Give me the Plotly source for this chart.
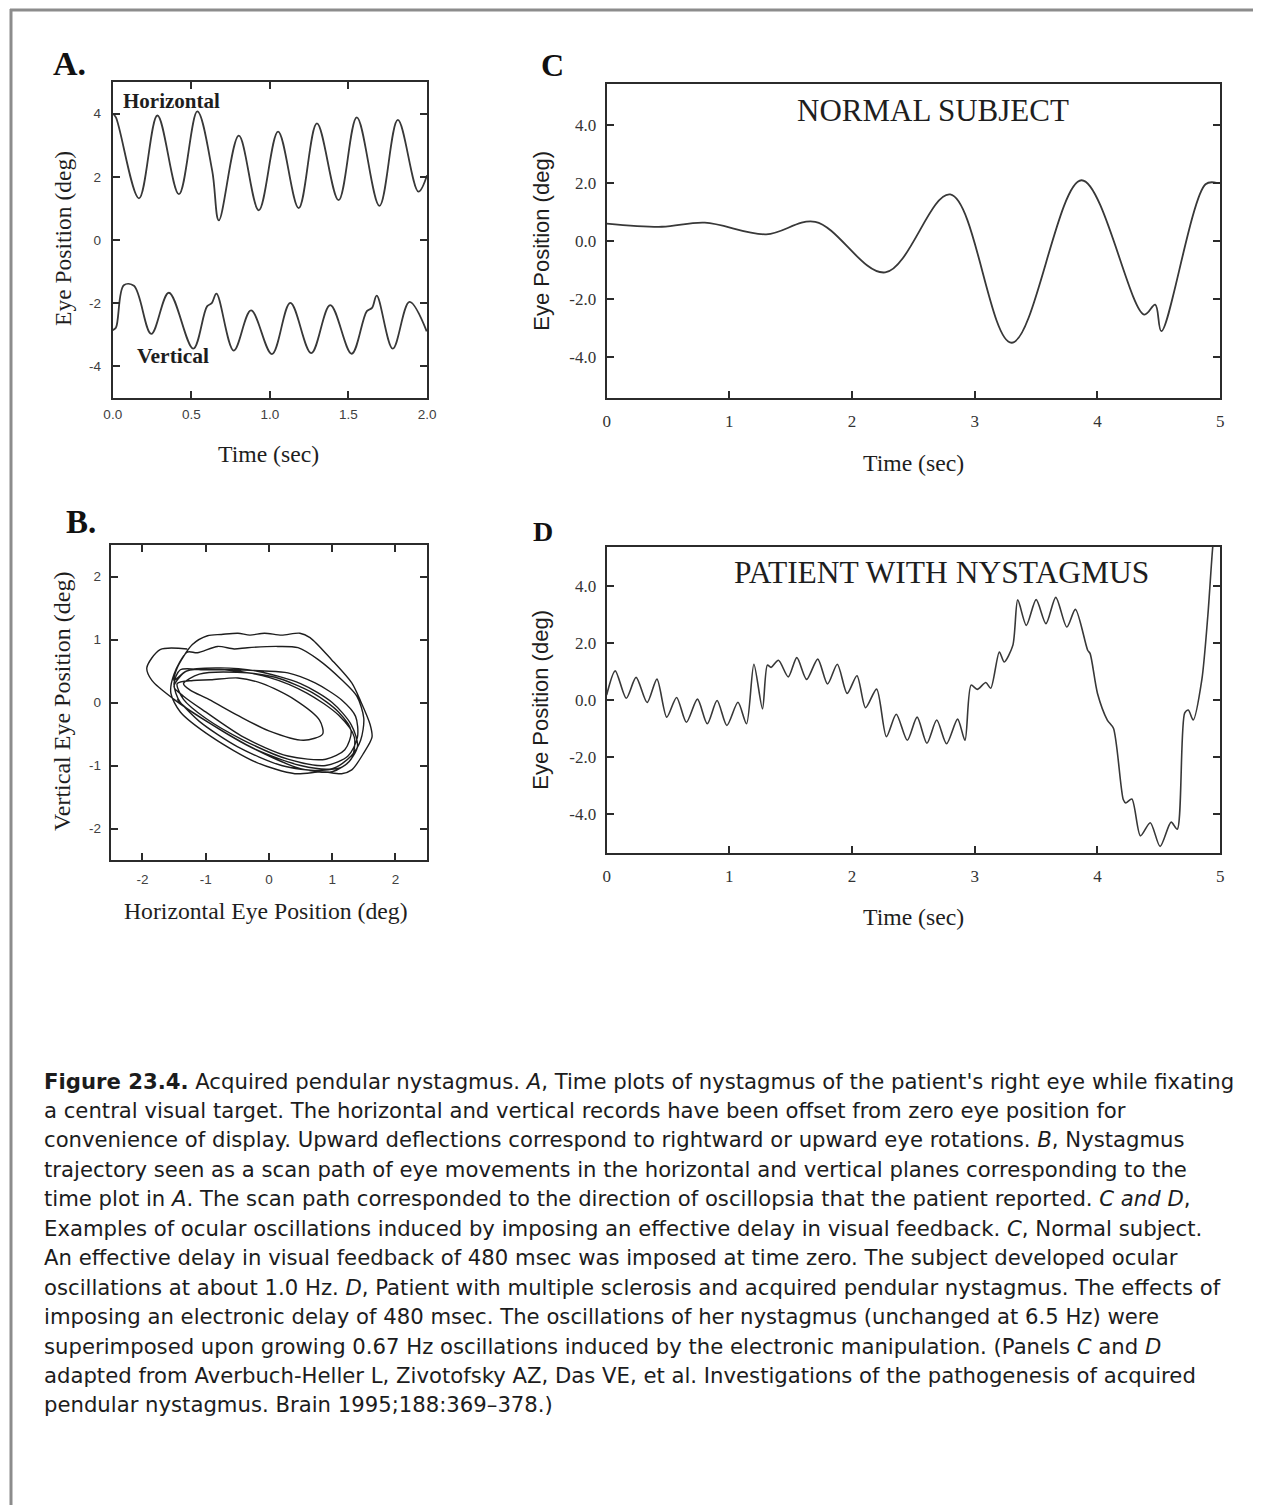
import plotly.graph_objects as go

W, H = 1262, 1505
# observed horizontal placement of the rendered page: x_screen = 8 + 0.988 * x_layout
SX0, SXK = 8.0, 0.988

# ---------------- Panel A: time plots (deg) ----------------
a_h_time = [0.0, 0.02, 0.167, 0.284, 0.421, 0.538, 0.633, 0.675, 0.802, 0.929, 1.052,
            1.183, 1.299, 1.437, 1.553, 1.697, 1.814, 1.945, 2.0]
a_h_pos = [4.0, 3.88, 1.32, 3.94, 1.45, 4.07, 2.19, 0.62, 3.30, 0.94, 3.43,
           1.01, 3.69, 1.26, 3.88, 1.08, 3.80, 1.53, 2.05]

a_v_time = [0.0, 0.02, 0.07, 0.135, 0.245, 0.357, 0.512, 0.60, 0.63, 0.66, 0.77,
            0.88, 1.013, 1.13, 1.263, 1.384, 1.52, 1.617, 1.65, 1.68, 1.782, 1.888, 1.998]
a_v_pos = [-2.85, -2.78, -1.43, -1.45, -2.97, -1.67, -3.44, -2.1, -2.0, -1.70, -3.50,
           -2.23, -3.61, -1.99, -3.58, -2.06, -3.60, -2.25, -2.15, -1.76, -3.44, -1.96, -2.89]

# ---------------- Panel B: scan path (deg) ----------------
b_horiz = [-1.29, -1.72, -1.93, -1.85, -1.50, -0.90, -0.20, 0.50, 1.00, 1.30, 1.35, 1.10, 0.60, 0.00, -0.70, -1.30, -1.50,
           -1.45, -1.21, -0.97, -0.75, -0.49, -0.30, -0.07, 0.20, 0.49, 0.65, 0.99, 1.31, 1.45, 1.60, 1.63, 1.50, 1.31, 1.15, 0.84, 0.41, -0.20, -0.90, -1.40, -1.55,
           -1.50, -1.29, -1.13, -0.81, -0.55, -0.34, 0.14, 0.46, 0.78, 1.15, 1.39, 1.50, 1.45, 1.30, 1.00, 0.50, -0.20, -0.90, -1.40, -1.50,
           -1.40, -1.03, -0.60, -0.07, 0.30, 0.73, 1.15, 1.37, 1.40, 1.25, 0.90, 0.30, -0.40, -1.00, -1.35, -1.45,
           -1.20, -0.92, -0.49, -0.10, 0.40, 0.80, 0.85, 0.55, 0.00, -0.50, -0.95, -1.25,
           -1.35, -1.10, -0.50, 0.10, 0.70, 1.10, 1.30, 1.20, 0.90, 0.30, -0.40, -1.00, -1.35,
           -1.50, -1.30, -0.80, -0.20, 0.50, 1.00, 1.30, 1.40, 1.20, 0.80, 0.20, -0.50, -1.10, -1.45]
b_vert = [0.85, 0.84, 0.55, 0.35, 0.05, -0.35, -0.75, -1.05, -1.10, -0.90, -0.55, -0.20, 0.15, 0.40, 0.52, 0.50, 0.35,
          0.55, 0.92, 1.06, 1.08, 1.10, 1.07, 1.10, 1.07, 1.10, 1.03, 0.68, 0.31, 0.02, -0.35, -0.55, -0.80, -1.07, -1.13, -1.10, -1.13, -0.95, -0.55, -0.15, 0.15,
          0.45, 0.80, 0.79, 0.89, 0.85, 0.87, 0.89, 0.87, 0.68, 0.36, 0.10, -0.25, -0.60, -0.85, -1.05, -1.00, -0.75, -0.35, 0.00, 0.30,
          0.52, 0.52, 0.52, 0.50, 0.47, 0.31, 0.04, -0.22, -0.55, -0.85, -1.00, -0.90, -0.60, -0.25, 0.05, 0.30,
          0.35, 0.36, 0.39, 0.30, 0.05, -0.28, -0.50, -0.60, -0.45, -0.20, 0.05, 0.20,
          0.30, 0.45, 0.48, 0.40, 0.15, -0.15, -0.45, -0.75, -0.90, -0.85, -0.55, -0.15, 0.10,
          0.25, 0.50, 0.55, 0.50, 0.30, 0.00, -0.35, -0.70, -1.00, -1.08, -1.00, -0.70, -0.30, 0.05]

# ---------------- Panel C: normal subject ----------------
c_time = [0.0, 0.45, 0.8, 1.3, 1.7, 2.27, 2.8, 3.3, 3.87, 4.38, 4.47, 4.52, 4.88, 4.97]
c_pos = [0.60, 0.49, 0.63, 0.23, 0.66, -1.08, 1.6, -3.5, 2.09, -2.53, -2.19, -3.1, 1.95, 2.0]

# ---------------- Panel D: patient with nystagmus ----------------
d_time = [0.0, 0.07, 0.16, 0.24, 0.33, 0.41, 0.49, 0.57, 0.65, 0.74, 0.82, 0.90, 0.98, 1.07, 1.14,
          1.20, 1.27, 1.31, 1.34, 1.40, 1.48, 1.55, 1.63, 1.72, 1.80, 1.88, 1.96, 2.04, 2.11, 2.20,
          2.28, 2.36, 2.45, 2.53, 2.61, 2.69, 2.77, 2.86, 2.92, 2.97, 3.02, 3.09, 3.13, 3.20, 3.24,
          3.31, 3.35, 3.42, 3.50, 3.58, 3.66, 3.75, 3.82, 3.92, 3.94, 4.00, 4.08, 4.13, 4.21, 4.23,
          4.28, 4.35, 4.43, 4.51, 4.60, 4.65, 4.71, 4.74, 4.78, 4.85, 4.90, 4.94, 4.97]
d_pos = [0.17, 1.02, 0.06, 0.79, -0.09, 0.73, -0.60, 0.09, -0.78, 0.03, -0.83, -0.02, -0.89, -0.08, -0.83,
         1.25, -0.31, 1.22, 1.14, 1.39, 0.81, 1.48, 0.72, 1.43, 0.56, 1.25, 0.23, 0.85, -0.27, 0.38,
         -1.28, -0.50, -1.41, -0.60, -1.51, -0.70, -1.53, -0.67, -1.41, 0.52, 0.37, 0.61, 0.41, 1.68, 1.33,
         1.91, 3.50, 2.61, 3.51, 2.67, 3.59, 2.55, 3.17, 1.74, 1.62, 0.23, -0.70, -0.99, -3.48, -3.60,
         -3.46, -4.75, -4.29, -5.12, -4.27, -4.52, -0.46, -0.35, -0.70, 0.70, 3.0, 5.4, 6.5]

# ---------------- Tick labels ----------------
a_xtick_vals = [0.0, 0.5, 1.0, 1.5, 2.0]
a_xtick_text = ["0.0", "0.5", "1.0", "1.5", "2.0"]
a_ytick_vals = [-4, -2, 0, 2, 4]
a_ytick_text = ["-4", "-2", "0", "2", "4"]
b_tick_vals = [-2, -1, 0, 1, 2]
b_tick_text = ["-2", "-1", "0", "1", "2"]
cd_xtick_vals = [0, 1, 2, 3, 4, 5]
cd_xtick_text = ["0", "1", "2", "3", "4", "5"]
cd_ytick_vals = [-4, -2, 0, 2, 4]
cd_ytick_text = ["-4.0", "-2.0", "0.0", "2.0", "4.0"]

caption_lines = [
    "<b>Figure 23.4.</b> Acquired pendular nystagmus. <i>A</i>, Time plots of nystagmus of the patient's right eye while fixating",
    "a central visual target. The horizontal and vertical records have been offset from zero eye position for",
    "convenience of display. Upward deflections correspond to rightward or upward eye rotations. <i>B</i>, Nystagmus",
    "trajectory seen as a scan path of eye movements in the horizontal and vertical planes corresponding to the",
    "time plot in <i>A</i>. The scan path corresponded to the direction of oscillopsia that the patient reported. <i>C and D</i>,",
    "Examples of ocular oscillations induced by imposing an effective delay in visual feedback. <i>C</i>, Normal subject.",
    "An effective delay in visual feedback of 480 msec was imposed at time zero. The subject developed ocular",
    "oscillations at about 1.0 Hz. <i>D</i>, Patient with multiple sclerosis and acquired pendular nystagmus. The effects of",
    "imposing an electronic delay of 480 msec. The oscillations of her nystagmus (unchanged at 6.5 Hz) were",
    "superimposed upon growing 0.67 Hz oscillations induced by the electronic manipulation. (Panels <i>C</i> and <i>D</i>",
    "adapted from Averbuch-Heller L, Zivotofsky AZ, Das VE, et al. Investigations of the pathogenesis of acquired",
    "pendular nystagmus. Brain 1995;188:369\u2013378.)",
]

# ---------------- helpers ----------------
def px(x):
    return ((x - SX0) / SXK) / W

def py(y):
    return 1 - y / H

def xdom(left, right):
    return [px(left), px(right)]

def ydom(top, bottom):
    return [py(bottom), py(top)]

LINE = "#2b2b2b"
TRACE = "#383838"
SERIF = "Liberation Serif, Times New Roman, serif"
SANS = "Liberation Sans, Arial, sans-serif"

fig = go.Figure()

line_style = dict(color=TRACE, width=1.8, shape="spline", smoothing=1.0)
fig.add_trace(go.Scatter(x=a_h_time, y=a_h_pos, mode="lines", line=line_style, xaxis="x", yaxis="y", showlegend=False))
fig.add_trace(go.Scatter(x=a_v_time, y=a_v_pos, mode="lines", line=line_style, xaxis="x", yaxis="y", showlegend=False))
fig.add_trace(go.Scatter(x=b_horiz, y=b_vert, mode="lines",
                         line=dict(color="#1e1e1e", width=1.4, shape="spline", smoothing=0.8),
                         xaxis="x2", yaxis="y2", showlegend=False))
fig.add_trace(go.Scatter(x=c_time, y=c_pos, mode="lines", line=line_style, xaxis="x3", yaxis="y3", showlegend=False))
fig.add_trace(go.Scatter(x=d_time, y=d_pos, mode="lines",
                         line=dict(color=TRACE, width=1.6, shape="spline", smoothing=0.75),
                         xaxis="x4", yaxis="y4", showlegend=False))

common = dict(showline=True, linecolor=LINE, linewidth=2, ticks="inside", ticklen=7,
              tickwidth=1.5, tickcolor=LINE, showgrid=False, zeroline=False, fixedrange=True)
small_sans = dict(family=SANS, size=13.5, color="#404040")
serif_ticks = dict(family=SERIF, size=17, color="#333333")

fig.update_layout(
    width=W, height=H, margin=dict(l=0, r=0, t=0, b=0),
    paper_bgcolor="white", plot_bgcolor="white",
    xaxis=dict(domain=xdom(112, 427), range=[0, 2], tickvals=a_xtick_vals, ticktext=a_xtick_text,
               mirror="ticks", tickfont=small_sans, ticklabelstandoff=3, anchor="y", **common),
    yaxis=dict(domain=ydom(82, 398), range=[-5, 5], tickvals=a_ytick_vals, ticktext=a_ytick_text,
               mirror="ticks", tickfont=small_sans, ticklabelstandoff=7, anchor="x", **common),
    xaxis2=dict(domain=xdom(110, 427), range=[-2.5, 2.5], tickvals=b_tick_vals, ticktext=b_tick_text,
                mirror="ticks", tickfont=small_sans, ticklabelstandoff=6, anchor="y2", **common),
    yaxis2=dict(domain=ydom(545, 860), range=[-2.5, 2.5], tickvals=b_tick_vals, ticktext=b_tick_text,
                mirror="ticks", tickfont=small_sans, ticklabelstandoff=5, anchor="x2", **common),
    xaxis3=dict(domain=xdom(607, 1222), range=[0, 5], tickvals=cd_xtick_vals, ticktext=cd_xtick_text,
                mirror=True, tickfont=serif_ticks, ticklabelstandoff=7, anchor="y3", **common),
    yaxis3=dict(domain=ydom(84, 398), range=[-5.4, 5.4], tickvals=cd_ytick_vals, ticktext=cd_ytick_text,
                mirror="ticks", tickfont=serif_ticks, ticklabelstandoff=5, anchor="x3", **common),
    xaxis4=dict(domain=xdom(607, 1222), range=[0, 5], tickvals=cd_xtick_vals, ticktext=cd_xtick_text,
                mirror=True, tickfont=serif_ticks, ticklabelstandoff=7, anchor="y4", **common),
    yaxis4=dict(domain=ydom(547, 853), range=[-5.35, 5.35], tickvals=cd_ytick_vals, ticktext=cd_ytick_text,
                mirror="ticks", tickfont=serif_ticks, ticklabelstandoff=5, anchor="x4", **common),
)

ann = []

def text(x, y, s, size, family=SERIF, color="#1e1e1e", angle=0, xanchor="center", bold=False):
    ann.append(dict(x=px(x), y=py(y), xref="paper", yref="paper", text=(f"<b>{s}</b>" if bold else s),
                    showarrow=False, font=dict(family=family, size=size, color=color),
                    xanchor=xanchor, yanchor="middle", textangle=angle))

# panel letters
text(69, 64, "A.", 34, bold=True, color="#111")
text(80, 522, "B.", 33, bold=True, color="#111")
text(553, 65, "C", 32, bold=True, color="#111")
text(543, 531, "D", 28, bold=True, color="#111")

# panel A
text(171, 101, "Horizontal", 21, bold=True)
text(172, 356, "Vertical", 21.5, bold=True)
text(268, 454, "Time (sec)", 23.7)
text(62, 238, "Eye Position (deg)", 23.5, angle=-90)

# panel B
text(266, 911, "Horizontal Eye Position (deg)", 23.7)
text(61, 701, "Vertical Eye Position (deg)", 24, angle=-90)

# panel C
text(934, 110, "NORMAL SUBJECT", 31)
text(915, 463, "Time (sec)", 23.7)
text(541, 241, "Eye Position (deg)", 22, family=SANS, angle=-90)

# panel D
text(943, 572, "PATIENT WITH NYSTAGMUS", 31.5)
text(915, 917, "Time (sec)", 23.7)
text(541, 700, "Eye Position (deg)", 22, family=SANS, angle=-90)

# caption
for i, line in enumerate(caption_lines):
    ann.append(dict(x=px(41), y=py(1081 + i * 29.45), xref="paper", yref="paper", text=line,
                    showarrow=False, xanchor="left", yanchor="middle",
                    font=dict(family="DejaVu Sans, sans-serif", size=21.2, color="#1c1c1c")))

fig.update_layout(annotations=ann)

# outer frame lines (top and left)
fig.add_shape(type="line", xref="paper", yref="paper", x0=px(9), x1=1, y0=py(10), y1=py(10),
              line=dict(color="#8c8c8c", width=3))
fig.add_shape(type="line", xref="paper", yref="paper", x0=px(10), x1=px(10), y0=py(9), y1=0,
              line=dict(color="#8c8c8c", width=3))

fig.write_html("out.html")
